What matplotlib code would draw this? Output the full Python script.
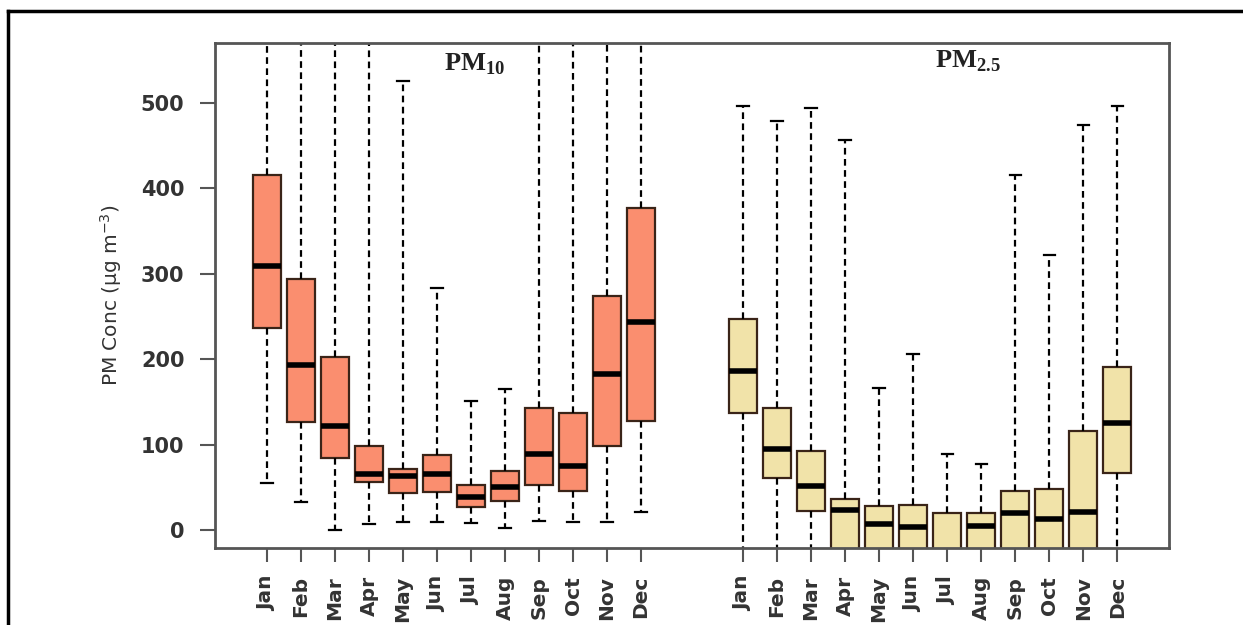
import numpy as np
import matplotlib
matplotlib.use("Agg")
import matplotlib.pyplot as plt
from matplotlib.lines import Line2D

months = ["Jan", "Feb", "Mar", "Apr", "May", "Jun",
          "Jul", "Aug", "Sep", "Oct", "Nov", "Dec"]

# PM10 monthly box stats (ug m-3)
pm10_whislo = [55, 33, 0, 7, 9, 9, 8, 2, 11, 9, 9, 21]
pm10_q1 = [236, 126, 84, 56, 43, 45, 27, 34, 53, 46, 98, 128]
pm10_med = [309, 193, 122, 66, 63, 66, 39, 50, 89, 75, 183, 243]
pm10_q3 = [416, 294, 202, 98, 72, 88, 53, 69, 143, 137, 274, 377]
pm10_whishi = [700, 700, 700, 700, 525, 283, 151, 165, 700, 700, 700, 700]

# PM2.5 monthly box stats (ug m-3)
pm25_whislo = [-100, -100, -100, -100, -100, -100, -100, -100, -100, -100, -100, -100]
pm25_q1 = [137, 61, 22, -40, -40, -40, -40, -40, -40, -40, -40, 67]
pm25_med = [186, 95, 51, 23, 7, 4, -30, 5, 20, 13, 21, 125]
pm25_q3 = [247, 143, 93, 36, 28, 29, 20, 20, 46, 48, 116, 191]
pm25_whishi = [496, 479, 494, 456, 166, 206, 89, 77, 415, 322, 474, 496]

pos10 = np.arange(1, 13)
pos25 = np.arange(15, 27)


def make_stats(lo, q1, med, q3, hi):
    return [dict(whislo=a, q1=b, med=c, q3=d, whishi=e, fliers=[])
            for a, b, c, d, e in zip(lo, q1, med, q3, hi)]


fig = plt.figure(figsize=(12.43, 6.25), dpi=100)
ax = fig.add_axes([0.173, 0.1232, 0.7675, 0.808])

edge = "#3a2418"
for stats, pos, fill in [
    (make_stats(pm10_whislo, pm10_q1, pm10_med, pm10_q3, pm10_whishi), pos10, "#fa8e6f"),
    (make_stats(pm25_whislo, pm25_q1, pm25_med, pm25_q3, pm25_whishi), pos25, "#f1e3a9"),
]:
    ax.bxp(stats, positions=pos, widths=0.82, capwidths=0.33, patch_artist=True,
           showfliers=False,
           boxprops=dict(facecolor=fill, edgecolor=edge, linewidth=1.6),
           medianprops=dict(color="black", linewidth=4, solid_capstyle="butt"),
           whiskerprops=dict(color="black", linewidth=1.6, linestyle=(0, (3, 2))),
           capprops=dict(color="black", linewidth=1.6))

ax.set_xlim(-0.525, 27.525)
ax.set_ylim(-21, 570)
ax.set_yticks([0, 100, 200, 300, 400, 500])
ax.set_xticks(np.concatenate([pos10, pos25]))
ax.set_xticklabels(months + months, rotation=90, fontfamily="DejaVu Sans",
                   fontweight="bold", fontsize=14.5, color="#333333")
ax.set_yticklabels([str(v) for v in [0, 100, 200, 300, 400, 500]],
                   fontfamily="DejaVu Sans", fontweight="bold", fontsize=15,
                   color="#333333")
ax.tick_params(axis="y", length=11, width=1.5, color="#555555", pad=11)
ax.tick_params(axis="x", length=10, width=1.5, color="#555555", pad=10)
for s in ax.spines.values():
    s.set_color("#555555")
    s.set_linewidth(2)

ax.set_ylabel(r"PM Conc ($\mathregular{\mu}$g m$^{-3}$)", fontfamily="DejaVu Sans",
              fontsize=14.5, color="#333333", labelpad=12)

ax.text(7.1, 560, r"PM$_{\mathregular{10}}$", fontfamily="Liberation Serif",
        fontweight="bold", fontsize=19, ha="center", va="top", color="#222222")
ax.text(21.6, 563, r"PM$_{\mathregular{2.5}}$", fontfamily="Liberation Serif",
        fontweight="bold", fontsize=19, ha="center", va="top", color="#222222")

# outer frame (only top and left edges fall inside the image)
fig.add_artist(Line2D([8 / 1243, 8 / 1243], [0, 1 - 11 / 625], color="black", linewidth=2.5))
fig.add_artist(Line2D([8 / 1243, 1], [1 - 11 / 625, 1 - 11 / 625], color="black", linewidth=2.5))

fig.savefig("out.png", dpi=100)
